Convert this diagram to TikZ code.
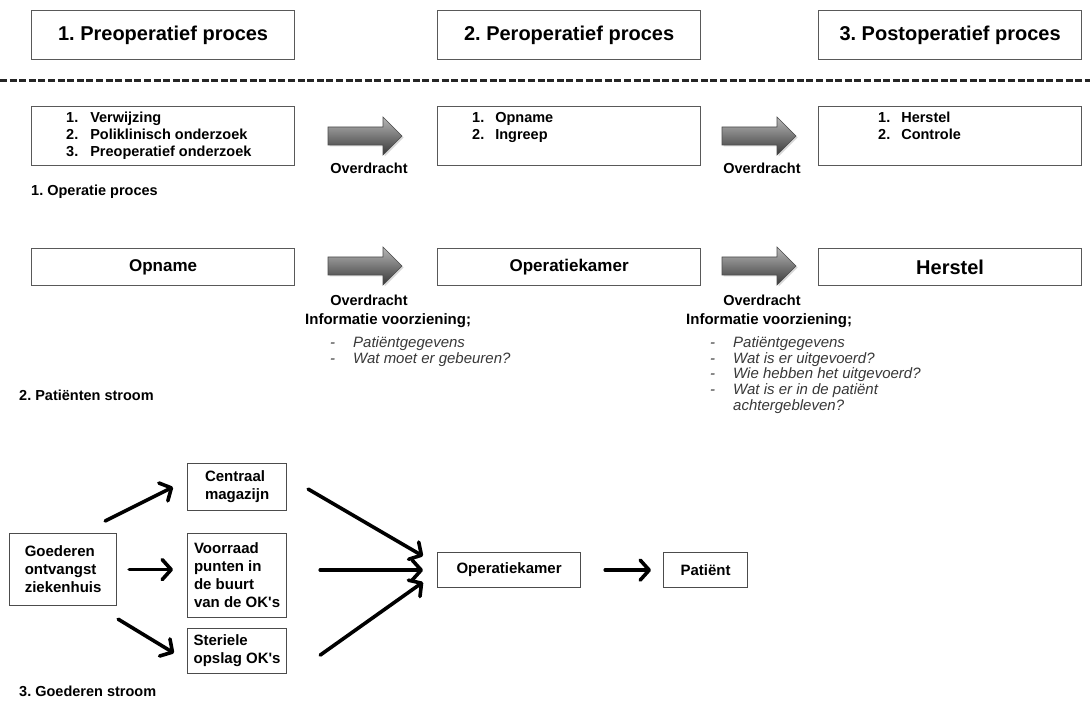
\documentclass[tikz,border=0pt]{standalone}
\usepackage{fontspec}
\setmainfont{Liberation Sans}[Ligatures=TeXOff]
\usetikzlibrary{arrows.meta,calc}
\frenchspacing
\begin{document}
\frenchspacing
\begin{tikzpicture}[x=1pt,y=-1pt,
  box/.style={draw=black!65, line width=1.2pt, fill=white, inner sep=0pt, anchor=north west},
  titlebox/.style={box, minimum width=263, minimum height=49, font=\fontsize{20}{24}\selectfont\bfseries},
  rowbox/.style={box, minimum width=263},
  listtxt/.style={inner sep=0pt, anchor=west, font=\fontsize{14.5}{17}\selectfont\bfseries},
  lbl/.style={inner sep=0pt, font=\fontsize{14.5}{17}\selectfont\bfseries},
  infohead/.style={inner sep=0pt, anchor=west, font=\fontsize{15}{18}\selectfont\bfseries},
  infoitems/.style={inner sep=0pt, anchor=north west, text=black!78},
  gbox/.style={draw=black!70, line width=1.2pt, fill=white, anchor=north west, inner sep=0pt, align=left, font=\fontsize{15}{18}\selectfont\bfseries},
  garrow/.style={line width=3.6pt, line cap=round, -{Straight Barb[length=9pt,width=20pt,round]}},
  dashline/.style={line width=3pt, black!85, dash pattern=on 7pt off 2.6pt},
  pics/blockarrow/.style={code={
    \fill[black!30, opacity=0.5] (1.5,-7.5) -- (56.5,-7.5) -- (56.5,-17.5) -- (75.5,1.5) -- (56.5,20.5) -- (56.5,10.5) -- (1.5,10.5) -- cycle;
    \shade[top color=black!28, bottom color=black!78, draw=black!70, line width=0.6pt]
      (0,-9) -- (55,-9) -- (55,-19) -- (74,0) -- (55,19) -- (55,9) -- (0,9) -- cycle;
  }}
]
\useasboundingbox (0,0) rectangle (1090,711);
\fill[white] (0,0) rectangle (1090,711);

% titles
\node[titlebox] (t1) at (31,10) {1. Preoperatief proces};
\node[titlebox] (t2) at (437,10) {2. Peroperatief proces};
\node[titlebox] (t3) at (818,10) {3. Postoperatief proces};

% dashed separator
\coordinate (dl) at (0,81);
\coordinate (dr) at (1090,81);
\draw[dashline] (dl) -- (dr);

% row 1
\node[rowbox, minimum height=59] (r1a) at (31,106) {};
\node[rowbox, minimum height=59] (r1b) at (437,106) {};
\node[rowbox, minimum height=59] (r1c) at (818,106) {};
\node[listtxt] (l1a) at (66,136) {\begin{tabular}{@{}l@{\hspace{12pt}}l@{}}1.&Verwijzing\\2.&Poliklinisch onderzoek\\3.&Preoperatief onderzoek\end{tabular}};
\node[listtxt] (l1b) at (472,128) {\begin{tabular}{@{}l@{\hspace{11pt}}l@{}}1.&Opname\\2.&Ingreep\end{tabular}};
\node[listtxt] (l1c) at (878,128) {\begin{tabular}{@{}l@{\hspace{11pt}}l@{}}1.&Herstel\\2.&Controle\end{tabular}};
\pic (a11) at (328,136) {blockarrow};
\pic (a12) at (722,136) {blockarrow};
\node[lbl] (ov11) at (369,168) {Overdracht};
\node[lbl] (ov12) at (762,168) {Overdracht};
\node[lbl, anchor=west] (s1) at (31,192) {1. Operatie proces};

% row 2
\node[rowbox, minimum height=37, font=\fontsize{17}{20}\selectfont\bfseries] (r2a) at (31,248) {Opname};
\node[rowbox, minimum height=37, font=\fontsize{17}{20}\selectfont\bfseries] (r2b) at (437,248) {Operatiekamer};
\node[rowbox, minimum height=37, font=\fontsize{20}{24}\selectfont\bfseries] (r2c) at (818,248) {Herstel};
\pic (a21) at (328,266) {blockarrow};
\pic (a22) at (722,266) {blockarrow};
\node[lbl] (ov21) at (369,300) {Overdracht};
\node[lbl] (ov22) at (762,300) {Overdracht};
\node[infohead] (ih1) at (305,321) {Informatie voorziening;};
\node[infoitems, font=\fontsize{15}{16}\selectfont\itshape] (ii1) at (330,336) {\begin{tabular}{@{}l@{\hspace{18pt}}l@{}}-&Patiëntgegevens\\-&Wat moet er gebeuren?\end{tabular}};
\node[infohead] (ih2) at (686,321) {Informatie voorziening;};
\node[infoitems, font=\fontsize{15}{15.8}\selectfont\itshape] (ii2) at (710,336) {\begin{tabular}{@{}l@{\hspace{18pt}}l@{}}-&Patiëntgegevens\\-&Wat is er uitgevoerd?\\-&Wie hebben het uitgevoerd?\\-&Wat is er in de patiënt\\&achtergebleven?\end{tabular}};
\node[lbl, anchor=west] (s2) at (19,395) {2. Patiënten stroom};

% row 3: goods flow
\node[gbox, minimum width=107, minimum height=72] (goed) at (9,533) {Goederen\\ontvangst\\ziekenhuis};
\node[gbox, minimum width=99, minimum height=47] (centr) at (187,463) {Centraal\\magazijn};
\node[gbox, minimum width=99, minimum height=84] (vorr) at (187,533) {Voorraad\\punten in\\de buurt\\van de OK's};
\node[gbox, minimum width=99, minimum height=45] (ster) at (187,628) {Steriele\\opslag OK's};
\node[gbox, align=center, minimum width=143, minimum height=35] (ok) at (437,552) {Operatiekamer};
\node[gbox, align=center, minimum width=84, minimum height=35] (pat) at (663,552) {Patiënt};
\node[lbl, anchor=west] (s3) at (19,691) {3. Goederen stroom};

\coordinate (a1s) at ($(goed.north east)+(-12,-12)$);
\coordinate (a1e) at ($(centr.west)+(-14,0)$);
\coordinate (a2s) at ($(goed.east)+(12,0)$);
\coordinate (a2e) at ($(goed.east -| vorr.west)+(-14,0)$);
\coordinate (a3s) at ($(goed.south east)+(1,13)$);
\coordinate (a3e) at ($(ster.west)+(-13,2)$);
\coordinate (b1s) at ($(centr.east)+(21,2)$);
\coordinate (b1e) at ($(ok.west)+(-14,-14)$);
\coordinate (b2s) at ($(ok.west -| vorr.east)+(33,0)$);
\coordinate (b2e) at ($(ok.west)+(-14,0)$);
\coordinate (b3s) at ($(ster.east)+(33,4)$);
\coordinate (b3e) at ($(ok.west)+(-14,12)$);
\coordinate (c1s) at ($(ok.east)+(24,0)$);
\coordinate (c1e) at ($(pat.west)+(-12,0)$);
\draw[garrow] (a1s) -- (a1e);
\draw[garrow] (a2s) -- (a2e);
\draw[garrow] (a3s) -- (a3e);
\draw[garrow] (b1s) -- (b1e);
\draw[garrow] (b2s) -- (b2e);
\draw[garrow] (b3s) -- (b3e);
\draw[garrow] (c1s) -- (c1e);
\end{tikzpicture}
\end{document}
